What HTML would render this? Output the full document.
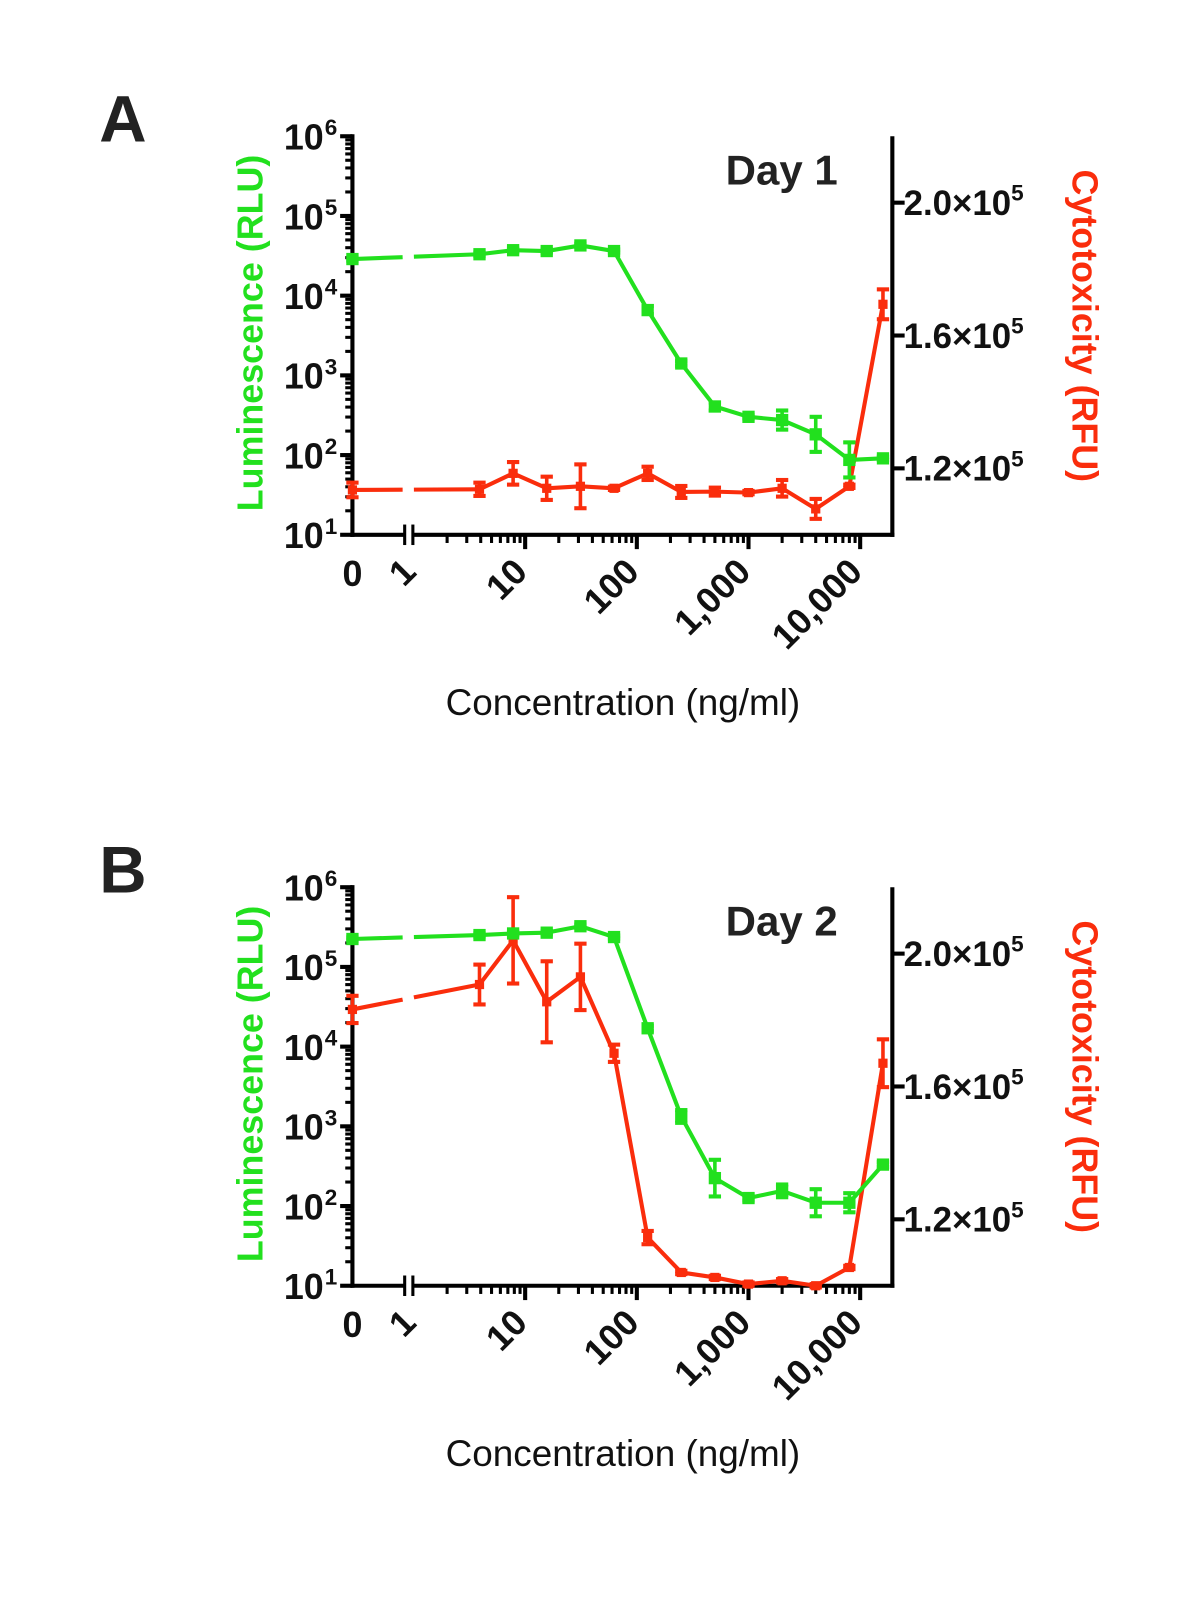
<!DOCTYPE html>
<html><head><meta charset="utf-8"><style>
html,body{margin:0;padding:0;background:#fff;}
svg{display:block;font-family:"Liberation Sans",Arial,sans-serif;}
</style></head><body>
<svg id="fig" width="1200" height="1604" viewBox="0 0 1200 1604"><g id="root" transform="scale(1.0245)"></g></svg>
<script>
const concentrations = [0, 3.9, 7.8, 15.6, 31.25, 62.5, 125, 250, 500, 1000, 2000, 4000, 8000, 16000];
const aGreen = [28800, 33100, 37200, 36300, 42700, 36300, 6600, 1410, 407, 302, 275, 182, 87, 91];
const aGreenErrLog = [0.02, 0.02, 0.02, 0.02, 0.02, 0.02, 0.05, 0.03, 0.05, 0.02, 0.12, 0.22, 0.22, 0.02];
const aRed = [1.135, 1.137, 1.185, 1.14, 1.146, 1.14, 1.185, 1.129, 1.13, 1.127, 1.14, 1.078, 1.146, 1.694];
const aRedErr = [0.022, 0.02, 0.034, 0.035, 0.066, 0.005, 0.02, 0.018, 0.012, 0.005, 0.025, 0.03, 0.005, 0.045];
const bGreen = [224000, 251000, 263000, 269000, 324000, 237000, 17000, 1330, 224, 126, 155, 110, 110, 331];
const bGreenErrLog = [0.02, 0.02, 0.02, 0.02, 0.02, 0.02, 0.03, 0.08, 0.23, 0.03, 0.08, 0.17, 0.12, 0.03];
const bRed = [1.832, 1.907, 2.04, 1.855, 1.93, 1.70, 1.145, 1.04, 1.025, 1.005, 1.015, 1.0, 1.055, 1.67];
const bRedErr = [0.041, 0.06, 0.13, 0.122, 0.1, 0.026, 0.02, 0.005, 0.005, 0.005, 0.005, 0.005, 0.005, 0.072];
const leftTicks = [1, 2, 3, 4, 5, 6];
const rightTicks = [1.2, 1.6, 2.0];
const xMajor = [10, 100, 1000, 10000];
const xMajorLabels = ["10", "100", "1,000", "10,000"];

const NS = "http://www.w3.org/2000/svg";
const svg = document.getElementById('root');
const GREEN = "#22e01e", RED = "#fa2d0c";
function el(tag, attrs, parent) {
  const e = document.createElementNS(NS, tag);
  for (const k in attrs) e.setAttribute(k, attrs[k]);
  (parent || svg).appendChild(e);
  return e;
}

function drawPanel(oy, letter, day, gVals, gErr, rVals, rErr, key) {
  const g = el('g', {});
  
  
  const top = 133 + oy, bot = 522 + oy, xl = 344, xr = 871;
  const yL = lv => bot - (lv - 1) * (bot - top) / 5;
  const yR = v => bot - (v - 1.0) * (bot - top) / 1.2;
  const xC = c => c === 0 ? xl : 512.6 + (Math.log10(c) - 1) * 109;

  const t = el('text', {x: 120, y: 138 + oy, 'font-size': 64, 'font-weight': 'bold', 'text-anchor': 'middle', fill: '#222'}, g);
  t.textContent = letter;
  
  

  const dt = el('text', {x: 763, y: 180 + oy, 'font-size': 41, 'font-weight': 'bold', 'text-anchor': 'middle', fill: '#222'}, g);
  dt.textContent = day;
  
  

  const la = el('line', {x1: xl, y1: top - 2, x2: xl, y2: bot + 2, stroke: '#000', 'stroke-width': 4}, g);
  
  
  for (let d = 1; d <= 5; d++) {
    for (let m = 2; m <= 9; m++) {
      const yy = yL(d + Math.log10(m));
      el('line', {x1: xl - 7, y1: yy, x2: xl, y2: yy, stroke: '#000', 'stroke-width': 3}, g);
    }
  }
  leftTicks.forEach(p => {
    const yy = yL(p);
    el('line', {x1: xl - 12, y1: yy, x2: xl, y2: yy, stroke: '#000', 'stroke-width': 4}, g);
    const tx = el('text', {x: 316, y: yy + 13, 'font-size': 35, 'font-weight': 'bold', 'text-anchor': 'end', fill: '#111'}, g);
    tx.textContent = '10';
    const sup = el('tspan', {x: 317, dy: -14, 'font-size': 22, 'text-anchor': 'start'}, tx);
    sup.textContent = String(p);
    
    
  });

  const ra = el('line', {x1: xr, y1: top, x2: xr, y2: bot + 2, stroke: '#000', 'stroke-width': 4}, g);
  
  
  rightTicks.forEach(v => {
    const yy = yR(v);
    el('line', {x1: xr, y1: yy, x2: xr + 12, y2: yy, stroke: '#000', 'stroke-width': 4}, g);
    const tx = el('text', {x: 882, y: yy + 12, 'font-size': 34, 'font-weight': 'bold', fill: '#111'}, g);
    tx.textContent = v.toFixed(1) + '\u00d710';
    const sup = el('tspan', {dy: -14, 'font-size': 22}, tx);
    sup.textContent = '5';
    
    
  });

  const xa1 = el('line', {x1: xl - 2, y1: bot, x2: 394, y2: bot, stroke: '#000', 'stroke-width': 4}, g);
  
  
  el('line', {x1: 404, y1: bot, x2: xr + 2, y2: bot, stroke: '#000', 'stroke-width': 4}, g);
  el('line', {x1: 395, y1: bot - 10, x2: 395, y2: bot + 10, stroke: '#000', 'stroke-width': 3}, g);
  el('line', {x1: 403, y1: bot - 10, x2: 403, y2: bot + 10, stroke: '#000', 'stroke-width': 3}, g);
  for (let d = 0; d <= 4; d++) {
    for (let m = 2; m <= 9; m++) {
      const c = Math.pow(10, d) * m;
      const xx = xC(c);
      if (xx > xr - 2 || xx < 408) continue;
      el('line', {x1: xx, y1: bot, x2: xx, y2: bot + 8, stroke: '#000', 'stroke-width': 3}, g);
    }
  }
  xMajor.forEach((c, i) => {
    const xx = xC(c);
    el('line', {x1: xx, y1: bot, x2: xx, y2: bot + 14, stroke: '#000', 'stroke-width': 4}, g);
    const lx = xx + 4, ly = bot + 38;
    const tx = el('text', {x: lx, y: ly, 'font-size': 35, 'font-weight': 'bold', 'text-anchor': 'end', fill: '#111', transform: `rotate(-45 ${lx} ${ly})`}, g);
    tx.textContent = xMajorLabels[i];
    
    
  });
  const z = el('text', {x: xl, y: bot + 50, 'font-size': 35, 'font-weight': 'bold', 'text-anchor': 'middle', fill: '#111'}, g);
  z.textContent = '0';
  
  
  const one = el('text', {x: 408, y: bot + 38, 'font-size': 35, 'font-weight': 'bold', 'text-anchor': 'end', fill: '#111', transform: `rotate(-45 408 ${bot + 38})`}, g);
  one.textContent = '1';
  
  

  const xt = el('text', {x: 608, y: 698 + oy, 'font-size': 36, 'text-anchor': 'middle', fill: '#111'}, g);
  xt.textContent = 'Concentration (ng/ml)';
  
  

  const lt = el('text', {x: 0, y: 0, 'font-size': 35, 'font-weight': 'bold', 'text-anchor': 'middle', fill: GREEN, transform: `translate(256 ${325 + oy}) rotate(-90)`}, g);
  lt.textContent = 'Luminescence (RLU)';
  
  
  const rt = el('text', {x: 0, y: 0, 'font-size': 35, 'font-weight': 'bold', 'text-anchor': 'middle', fill: RED, transform: `translate(1047 ${318 + oy}) rotate(90)`}, g);
  rt.textContent = 'Cytotoxicity (RFU)';
  
  

  function series(ys, lo, hi, color, name) {
    const sg = el('g', {}, g);
    
    
    const xs = concentrations.map(xC);
    const x0 = xs[0], x1 = xs[1], y0 = ys[0], y1 = ys[1];
    const f = (xv) => y0 + (y1 - y0) * (xv - x0) / (x1 - x0);
    el('line', {x1: x0, y1: y0, x2: 393, y2: f(393), stroke: color, 'stroke-width': 4}, sg);
    el('line', {x1: 404, y1: f(404), x2: x1, y2: y1, stroke: color, 'stroke-width': 4}, sg);
    let d = '';
    for (let i = 1; i < xs.length; i++) d += (i === 1 ? 'M' : 'L') + xs[i] + ' ' + ys[i];
    el('path', {d: d, fill: 'none', stroke: color, 'stroke-width': 4, 'stroke-linejoin': 'round'}, sg);
    for (let i = 0; i < xs.length; i++) {
      el('line', {x1: xs[i], y1: lo[i], x2: xs[i], y2: hi[i], stroke: color, 'stroke-width': 3.5}, sg);
      el('line', {x1: xs[i] - 6, y1: lo[i], x2: xs[i] + 6, y2: lo[i], stroke: color, 'stroke-width': 4}, sg);
      el('line', {x1: xs[i] - 6, y1: hi[i], x2: xs[i] + 6, y2: hi[i], stroke: color, 'stroke-width': 4}, sg);
      const s = color === GREEN ? 12 : 9;
      const m = el('rect', {x: xs[i] - s / 2, y: ys[i] - s / 2, width: s, height: s, fill: color}, sg);
      
      
    }
  }
  series(rVals.map(yR), rVals.map((v, i) => yR(v - rErr[i])), rVals.map((v, i) => yR(v + rErr[i])), RED, 'cytotoxicity-series');
  series(gVals.map(v => yL(Math.log10(v))),
    gVals.map((v, i) => yL(Math.log10(v) - gErr[i])),
    gVals.map((v, i) => yL(Math.log10(v) + gErr[i])), GREEN, 'luminescence-series');
}
drawPanel(0, 'A', 'Day 1', aGreen, aGreenErrLog, aRed, aRedErr, 'a');
drawPanel(733, 'B', 'Day 2', bGreen, bGreenErrLog, bRed, bRedErr, 'b');
</script>
</body></html>
